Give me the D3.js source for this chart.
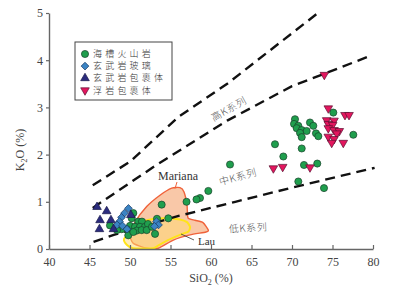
<!DOCTYPE html>
<html>
<head>
<meta charset="utf-8">
<script src="https://cdn.jsdelivr.net/npm/d3@7"></script>
<style>
  html, body { margin: 0; padding: 0; background: #fff; }
  svg { display: block; }
  .serif { font-family: 'Liberation Serif', 'Times New Roman', 'DejaVu Serif', serif; }
  .cjk { font-family: 'Noto Sans CJK SC', sans-serif; font-weight: 300; }
</style>
</head>
<body>
<svg id="chart" width="401" height="290"></svg>
<script>
// axis ticks
const xTicks = [40, 45, 50, 55, 60, 65, 70, 75, 80];
const yTicks = [0, 1, 2, 3, 4, 5];

// 海槽火山岩
const troughSiO2 = [75.1, 70.37, 70.25, 70.78, 72.22, 72.63, 70.58, 71.2, 71.81, 70.99, 72.96, 73.25, 71.2, 77.57, 71.2, 67.9, 68.93, 62.35, 71.48, 73.12, 70.78, 73.95,
  59.67, 58.64, 58.21, 56.98, 53.91, 54.73,
  50.41, 50.21, 47.53, 51.02, 51.48, 50.0, 50.62, 51.23, 51.85, 52.22, 50.83, 51.44, 52.06, 49.59, 48.98, 49.79, 50.41, 53.09, 52.72, 48.4, 53.33];
const troughK2O = [2.89, 2.75, 2.65, 2.61, 2.68, 2.61, 2.56, 2.52, 2.5, 2.46, 2.45, 2.39, 2.37, 2.42, 2.13, 2.22, 1.96, 1.79, 1.78, 1.81, 1.43, 1.29,
  1.23, 1.08, 1.05, 1.0, 0.94, 0.65,
  0.76, 0.65, 0.5, 0.58, 0.58, 0.49, 0.47, 0.47, 0.47, 0.53, 0.39, 0.4, 0.4, 0.42, 0.42, 0.29, 0.36, 0.32, 0.47, 0.4, 0.64];

// 玄武岩玻璃
const glassSiO2 = [49.81, 49.32, 48.95, 48.7, 48.4, 49.07, 49.63, 53.27, 53.52, 53.02];
const glassK2O = [0.86, 0.76, 0.67, 0.58, 0.51, 0.49, 0.42, 0.58, 0.51, 0.48];

// 玄武岩包裹体
const basaltInclSiO2 = [45.93, 47.12, 46.3, 47.65, 46.23, 47.96, 50.1];
const basaltInclK2O = [0.89, 0.8, 0.61, 0.61, 0.42, 0.42, 0.72];

// 浮岩包裹体
const pumiceInclSiO2 = [73.99, 74.48, 76.54, 77.04, 74.28, 75.19, 74.48, 75.02, 74.48, 75.19, 75.84, 75.52, 74.48, 75.19, 74.9, 76.33, 67.7, 68.85, 72.22];
const pumiceInclK2O = [3.69, 2.98, 2.84, 2.84, 2.73, 2.72, 2.65, 2.63, 2.56, 2.52, 2.5, 2.45, 2.38, 2.33, 2.25, 2.25, 1.71, 1.74, 1.73];

// series boundaries [SiO2, K2O]
const highKLine = [[45.4, 1.35], [47.5, 1.58], [50, 1.85], [56, 2.8], [62, 3.5], [73.2, 5.0]];
const midKLine = [[45.4, 0.87], [53, 1.75], [62, 2.72], [70, 3.45], [79.5, 4.08]];
const lowKLine = [[45.5, 0.15], [48, 0.3], [52, 0.5], [56, 0.7], [63, 1.0], [70, 1.3], [80.2, 1.72]];

// reference fields
const marianaField = [[55.15, 1.29], [56.17, 1.3], [56.67, 1.21], [57.04, 0.93], [57.16, 0.66], [58.02, 0.61], [59.01, 0.56], [59.67, 0.4], [59.38, 0.36],
  [57.41, 0.3], [55.35, 0.19], [53.49, 0.015], [52.06, 0.015], [50.41, 0.12], [50.0, 0.3], [50.62, 0.57], [52.06, 0.9], [53.7, 1.14]];
const lauField = [[49.26, 0.21], [50.37, 0.43], [51.64, 0.58], [53.09, 0.64], [54.53, 0.65], [56.17, 0.625], [57.04, 0.57], [57.41, 0.47], [57.22, 0.37],
  [56.17, 0.3], [54.69, 0.19], [53.46, 0.07], [52.84, 0.015], [50.37, 0.015], [49.63, 0.085]];

const legendLabels = ['海槽火山岩', '玄武岩玻璃', '玄武岩包裹体', '浮岩包裹体'];

const svg = d3.select('#chart');

const x = d3.scaleLinear().domain([40, 80]).range([49, 373]);
const y = d3.scaleLinear().domain([0, 5]).range([249, 13]);

// fields
const area = d3.line().x((d) => x(d[0])).y((d) => y(d[1])).curve(d3.curveCardinalClosed.tension(0.4));
svg.append('path')
  .attr('d', area(marianaField))
  .attr('fill', '#f9c8a8')
  .attr('stroke', '#f0623a')
  .attr('stroke-width', 1.4);
svg.append('path')
  .attr('d', area(lauField))
  .attr('fill', 'rgba(255, 218, 110, 0.5)')
  .attr('stroke', '#ffe41a')
  .attr('stroke-width', 2);

// boundary lines
const line = d3.line().x((d) => x(d[0])).y((d) => y(d[1]));
[highKLine, midKLine, lowKLine].forEach((l) => {
  svg.append('path')
    .attr('d', line(l))
    .attr('fill', 'none')
    .attr('stroke', '#111')
    .attr('stroke-width', 2.4)
    .attr('stroke-dasharray', '10,6');
});

// axes
const xAxis = svg.append('g')
  .attr('transform', `translate(0,${y(0)})`)
  .call(d3.axisBottom(x).tickValues(xTicks).tickFormat(d3.format('d')).tickSize(-4).tickSizeOuter(0).tickPadding(8));
const yAxis = svg.append('g')
  .attr('transform', `translate(${x(40)},0)`)
  .call(d3.axisLeft(y).tickValues(yTicks).tickFormat(d3.format('d')).tickSize(3).tickSizeOuter(0).tickPadding(3));
[xAxis, yAxis].forEach((a) => {
  a.attr('font-family', null).attr('font-size', null);
  a.select('.domain').attr('stroke', '#666').attr('stroke-width', 1.4);
  a.selectAll('.tick line').attr('stroke', '#666').attr('stroke-width', 1.2);
  a.selectAll('.tick text').attr('class', 'serif').attr('fill', '#444').style('font-size', '12px');
});

// axis titles
const xTitle = svg.append('text')
  .attr('class', 'serif')
  .attr('x', 211).attr('y', 282)
  .attr('text-anchor', 'middle')
  .attr('fill', '#444')
  .style('font-size', '12px');
xTitle.append('tspan').text('SiO');
xTitle.append('tspan').attr('dy', 3).style('font-size', '8px').text('2');
xTitle.append('tspan').attr('dy', -3).text(' (%)');

const yTitle = svg.append('text')
  .attr('class', 'serif')
  .attr('transform', 'translate(24,150) rotate(-90)')
  .attr('text-anchor', 'middle')
  .attr('fill', '#444')
  .style('font-size', '12px');
yTitle.append('tspan').text('K');
yTitle.append('tspan').attr('dy', 3).style('font-size', '8px').text('2');
yTitle.append('tspan').attr('dy', -3).text('O (%)');

// field labels
svg.append('line').attr('x1', 177).attr('y1', 182).attr('x2', 175).attr('y2', 188.5).attr('stroke', '#f0623a').attr('stroke-width', 1);
svg.append('text').attr('class', 'serif').attr('x', 158).attr('y', 180).attr('fill', '#333')
  .style('font-size', '12px').text('Mariana');
svg.append('line').attr('x1', 181).attr('y1', 234).attr('x2', 194).attr('y2', 240).attr('stroke', '#333').attr('stroke-width', 0.8);
svg.append('text').attr('class', 'serif').attr('x', 198).attr('y', 245).attr('fill', '#333')
  .style('font-size', '11px').text('Lau');

// series labels
const seriesLabels = [
  { text: '高K系列', cx: 229, cy: 109, angle: -29 },
  { text: '中K系列', cx: 238, cy: 177, angle: -15 },
  { text: '低K系列', cx: 248, cy: 228, angle: -3 },
];
seriesLabels.forEach((s) => {
  svg.append('text')
    .attr('class', 'cjk')
    .attr('transform', `translate(${s.cx},${s.cy}) rotate(${s.angle})`)
    .attr('text-anchor', 'middle')
    .attr('dy', '0.35em')
    .attr('fill', '#555')
    .style('font-size', '10px')
    .style('letter-spacing', '0.6px')
    .text(s.text);
});

// markers
const circle = d3.symbol().type(d3.symbolCircle).size(40)();
const square = d3.symbol().type(d3.symbolSquare).size(30)();
const triangle = d3.symbol().type(d3.symbolTriangle).size(32)();
const groups = [
  { sio2: troughSiO2, k2o: troughK2O, path: circle, rot: 0, fill: '#1f9e4d', stroke: '#18402a' },
  { sio2: glassSiO2, k2o: glassK2O, path: square, rot: 45, fill: '#3b84c4', stroke: '#1d3d66' },
  { sio2: basaltInclSiO2, k2o: basaltInclK2O, path: triangle, rot: 0, fill: '#2b2c7e', stroke: '#1a1a4a' },
  { sio2: pumiceInclSiO2, k2o: pumiceInclK2O, path: triangle, rot: 180, fill: '#e3165e', stroke: '#5a1030' },
];
groups.forEach((g) => {
  svg.append('g')
    .selectAll('path')
    .data(g.sio2.map((s, i) => [s, g.k2o[i]]))
    .enter()
    .append('path')
    .attr('d', g.path)
    .attr('transform', (d) => `translate(${x(d[0])},${y(d[1])}) rotate(${g.rot})`)
    .attr('fill', g.fill)
    .attr('stroke', g.stroke)
    .attr('stroke-width', 0.7);
});

// legend
const legend = svg.append('g');
legend.append('rect')
  .attr('x', 75).attr('y', 42).attr('width', 97).attr('height', 58)
  .attr('fill', '#fff').attr('stroke', '#444').attr('stroke-width', 1);
groups.forEach((g, i) => {
  const ly = 54 + i * 12.1;
  legend.append('path')
    .attr('d', g.path)
    .attr('transform', `translate(85,${ly}) rotate(${g.rot})`)
    .attr('fill', g.fill).attr('stroke', g.stroke).attr('stroke-width', 0.7);
  legend.append('text')
    .attr('class', 'cjk')
    .attr('x', 93).attr('y', ly).attr('dy', '0.36em')
    .attr('fill', '#333')
    .style('font-size', '9px')
    .style('letter-spacing', '3.2px')
    .text(legendLabels[i]);
});
</script>
</body>
</html>
